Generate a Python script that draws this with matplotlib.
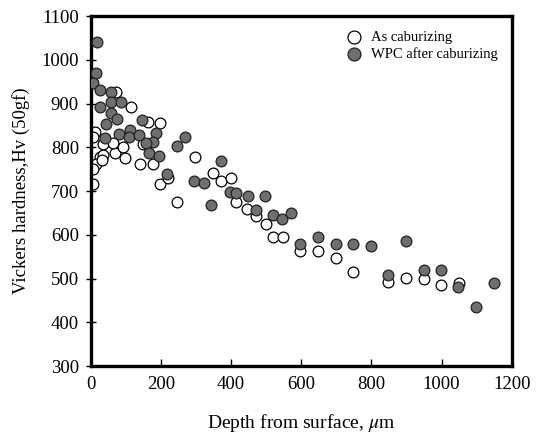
import matplotlib
matplotlib.use("Agg")
import matplotlib.pyplot as plt

plt.rcParams['font.family'] = ['Liberation Serif', 'DejaVu Serif']
plt.rcParams['mathtext.fontset'] = 'stix'

# As carburizing (open circles)
as_depth = [72, 116, 164, 197, 12, 7, 36, 69, 92, 64, 149, 26, 15, 5, 7,
            36, 97, 31, 140, 178, 296, 197, 220, 246, 347, 370, 399, 415,
            446, 472, 498, 519, 548, 597, 647, 698, 747, 848, 897, 949,
            998, 1050]
as_hv = [927, 893, 858, 856, 836, 824, 807, 786, 801, 809, 807, 778, 763,
         750, 716, 782, 775, 771, 763, 762, 778, 716, 729, 676, 742, 724,
         731, 676, 658, 643, 625, 594, 594, 564, 564, 548, 514, 493, 502,
         498, 485, 490]

# WPC after carburizing (grey circles)
wpc_depth = [18, 15, 7, 26, 57, 26, 59, 85, 57, 75, 43, 145, 112, 81, 40,
             110, 138, 187, 176, 157, 166, 195, 268, 246, 372, 218, 294,
             322, 396, 415, 448, 496, 344, 470, 519, 546, 572, 597, 647,
             698, 747, 799, 897, 848, 949, 998, 1048, 1098, 1150]
wpc_hv = [1040, 969, 948, 931, 927, 893, 904, 904, 878, 864, 853, 862, 839,
          830, 822, 824, 828, 832, 813, 809, 786, 781, 824, 804, 769, 740,
          724, 718, 698, 695, 689, 689, 668, 657, 645, 636, 651, 580, 594,
          580, 580, 575, 586, 508, 519, 519, 481, 434, 490]

fig = plt.figure(figsize=(5.36, 4.40), dpi=100)
ax = fig.add_axes([0.1694, 0.168, 0.7855, 0.7955])

ax.scatter(as_depth, as_hv, s=60, facecolors='white', edgecolors='black',
           linewidths=0.9, label='As caburizing', zorder=2)
ax.scatter(wpc_depth, wpc_hv, s=60, facecolors='#6f6f6f', edgecolors='#222222',
           linewidths=0.9, label='WPC after caburizing', zorder=3)

ax.set_xlim(0, 1200)
ax.set_ylim(300, 1100)
ax.set_xticks(range(0, 1201, 200))
ax.set_yticks(range(300, 1101, 100))

for sp in ax.spines.values():
    sp.set_linewidth(2.4)
ax.tick_params(axis='x', direction='in', length=5, width=1, labelsize=13.5, pad=7)
ax.tick_params(axis='y', direction='inout', length=7, width=1, labelsize=13.5, pad=5)

ax.set_xlabel('Depth from surface, $\\mu$m', fontsize=14, labelpad=14)
ax.set_ylabel('Vickers hardness,Hv (50gf)', fontsize=13.5, labelpad=8)

ax.legend(loc='upper left', bbox_to_anchor=(0.56, 0.995), frameon=False,
          fontsize=10.5, handletextpad=0.15, labelspacing=0.2, borderpad=0.4,
          markerscale=1.2)

fig.savefig('out.png', dpi=100)
